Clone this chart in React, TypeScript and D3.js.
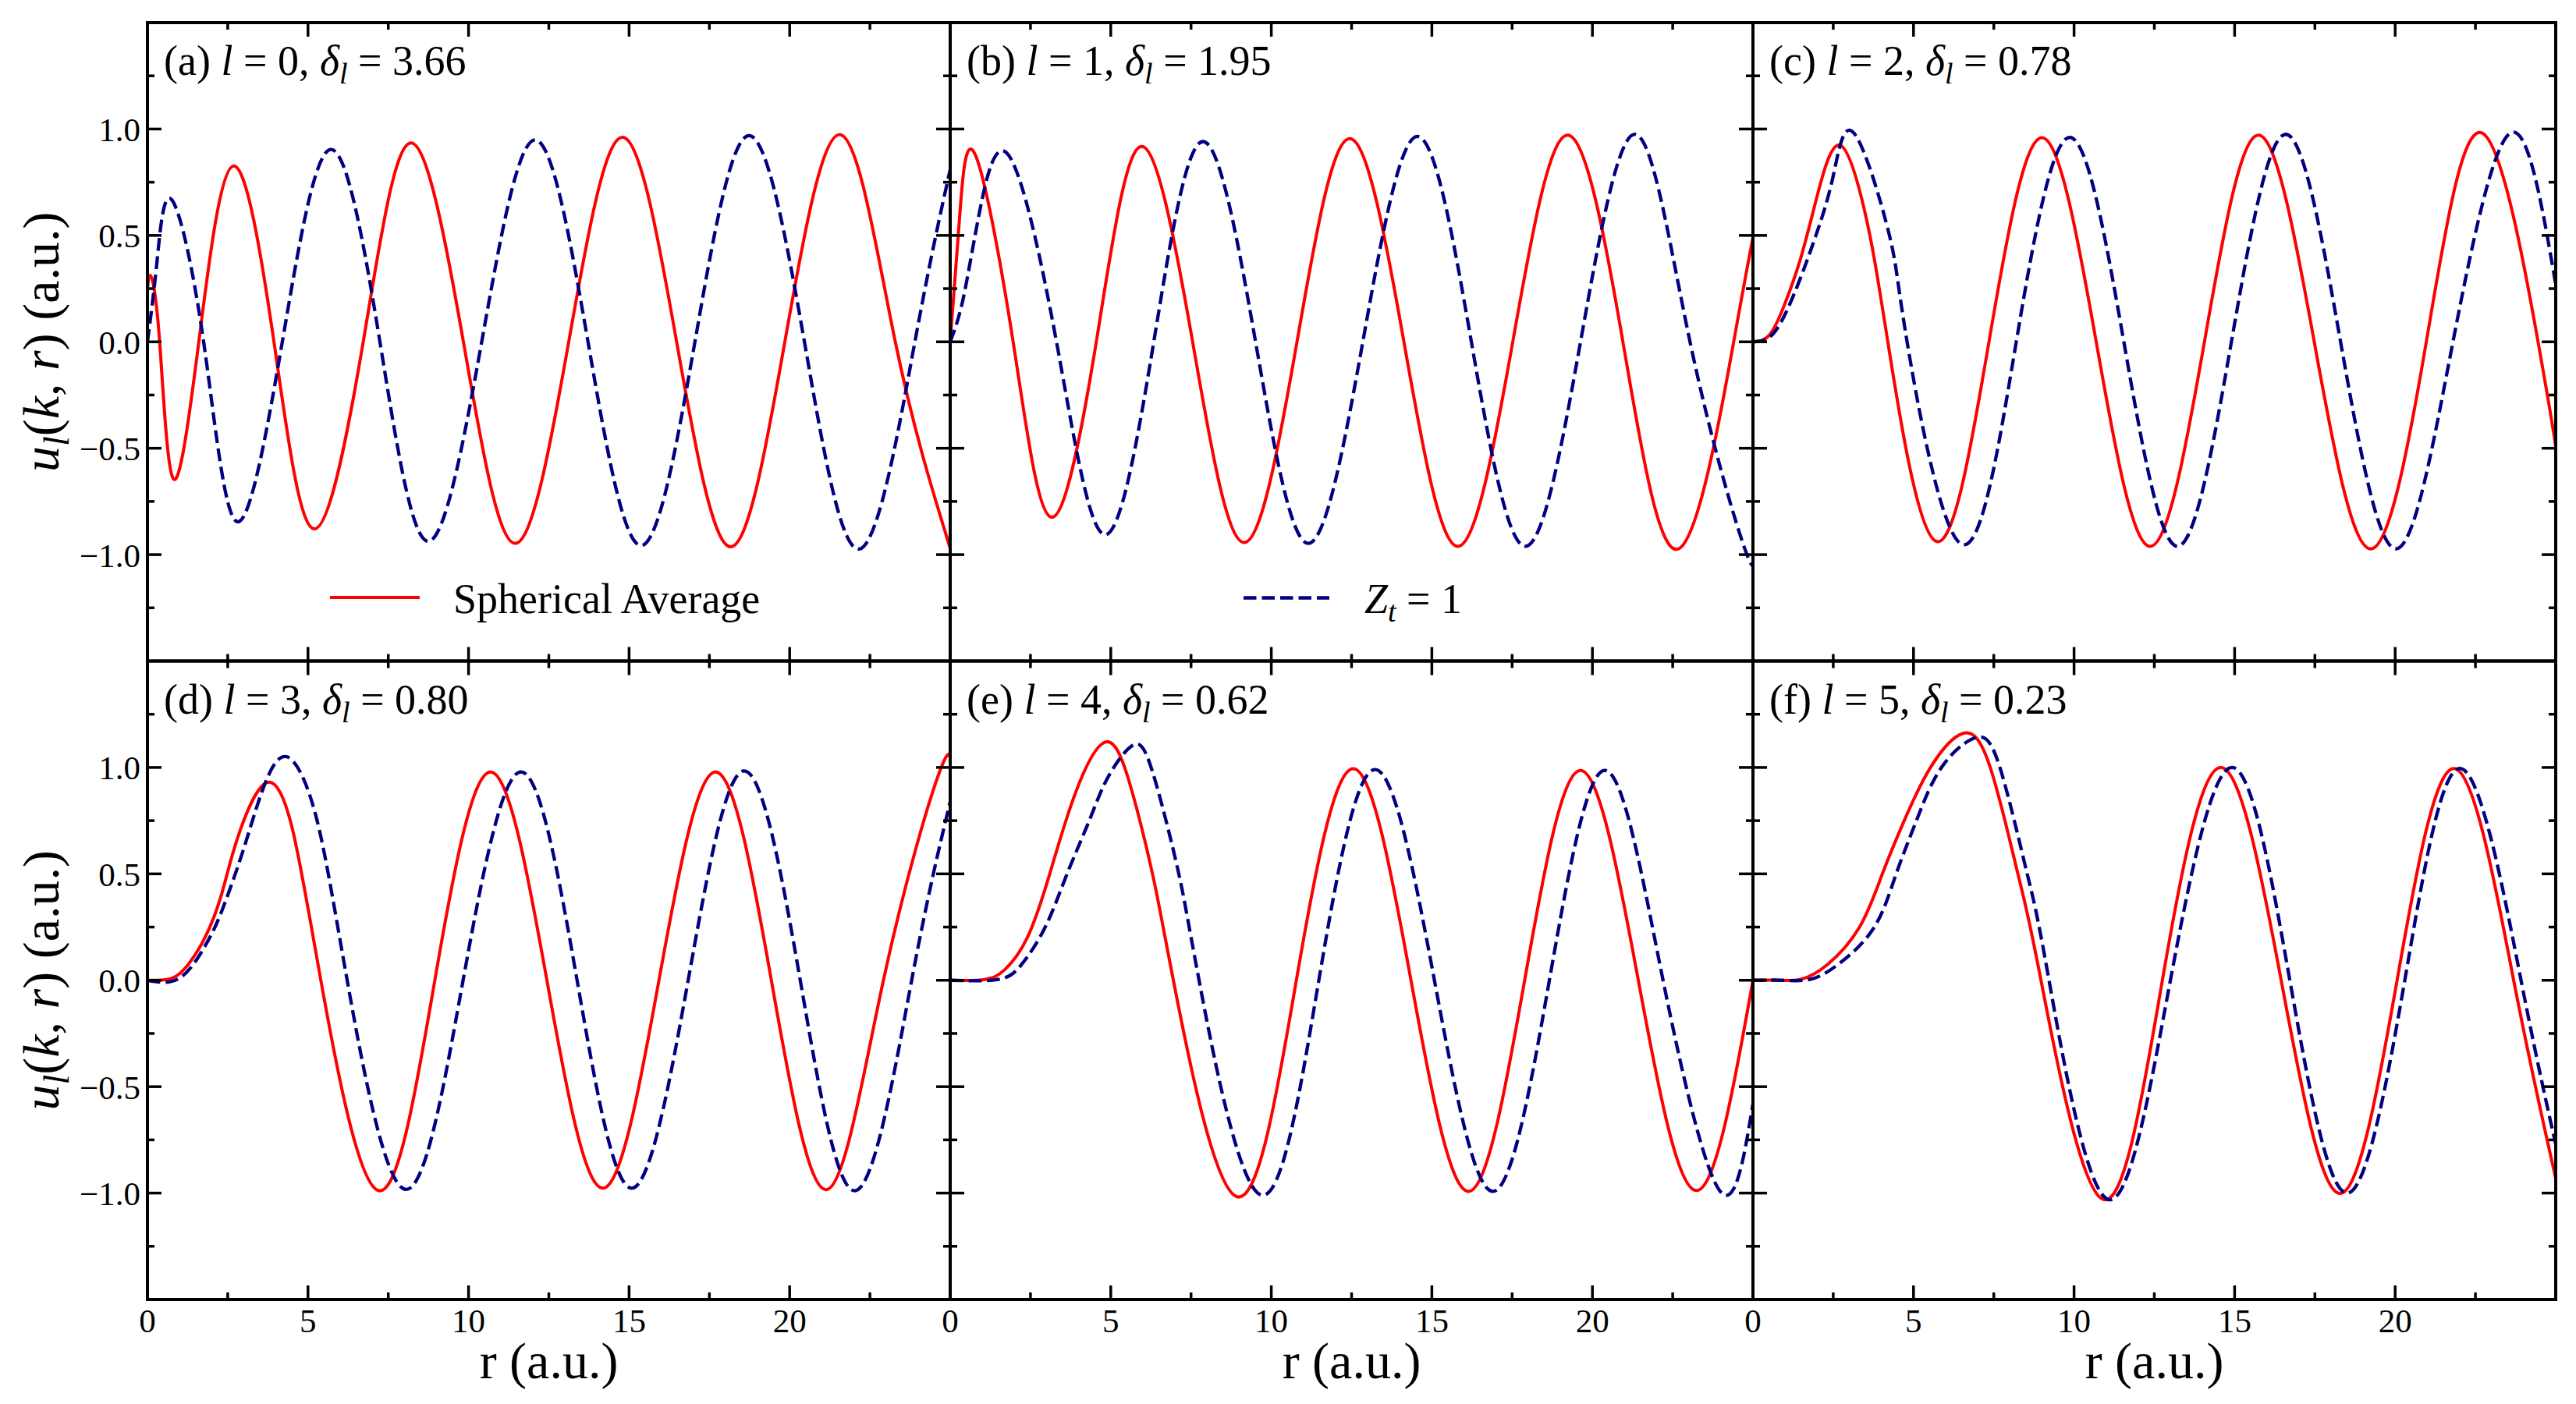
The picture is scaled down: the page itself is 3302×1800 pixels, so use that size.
import React, { useEffect } from "react";
import * as d3 from "d3";

type P = [number, number];

// ---- data (r in a.u., u_l(k,r) in a.u.) ----
const redA: P[] = [[0,0.24],[0.1,0.31],[0.38,0],[0.81,-0.644],[1.6,0],[2.67,0.826],[3.94,0],[5.19,-0.879],[6.72,0],[8.2,0.935],[9.84,0],[11.45,-0.947],[13.12,0],[14.79,0.961],[16.48,0],[18.16,-0.963],[19.85,0],[21.59,0.973],[23.29,0],[25,-0.97]];
const blueA: P[] = [[0,0],[0.3,0.38],[0.75,0.669],[1.75,0],[2.79,-0.845],[4.2,0],[5.71,0.904],[7.24,0],[8.74,-0.937],[10.41,0],[12.07,0.949],[13.72,0],[15.37,-0.957],[17.05,0],[18.73,0.969],[20.46,0],[22.19,-0.973],[23.9,0],[25,0.81]];

const redB: P[] = [[0,0],[0.1,0.2],[0.3,0.6],[0.77,0.883],[1.96,0],[3.15,-0.824],[4.55,0],[5.95,0.918],[7.55,0],[9.15,-0.943],[10.8,0],[12.44,0.955],[14.13,0],[15.81,-0.961],[17.52,0],[19.22,0.971],[20.95,0],[22.68,-0.973],[24.4,0],[25,0.49]];
const blueB: P[] = [[0,0],[0.4,0.2],[0.9,0.6],[1.82,0.877],[3.31,0],[4.81,-0.906],[6.34,0],[7.87,0.941],[9.51,0],[11.15,-0.947],[12.85,0],[14.55,0.965],[16.23,0],[17.91,-0.961],[19.63,0],[21.34,0.975],[23.04,0],[24.74,-0.97],[25,-0.955]];

const redC: P[] = [[0,0],[0.5,0.03],[0.97,0.17],[1.48,0.39],[1.99,0.68],[2.71,0.924],[3.5,0.6],[4.2,0],[5.7,-0.937],[7.35,0],[9.0,0.959],[10.69,0],[12.37,-0.961],[14.06,0],[15.74,0.971],[17.48,0],[19.23,-0.973],[20.97,0],[22.7,0.982],[24.45,0],[25,-0.49]];
const blueC: P[] = [[0,0],[0.5,0.02],[0.97,0.12],[1.48,0.3],[1.96,0.5],[2.5,0.78],[3.15,0.98],[4.25,0.5],[4.8,0],[6.5,-0.951],[8.2,0],[9.87,0.961],[11.55,0],[13.22,-0.961],[14.9,0],[16.59,0.975],[18.3,0],[20.03,-0.973],[21.8,0],[23.6,0.982],[25,0.27]];

const redD: P[] = [[0,0],[0.77,0.01],[1.28,0.076],[1.79,0.2],[2.3,0.4],[2.81,0.67],[3.7,0.928],[4.5,0.72],[5.4,0],[7.19,-0.988],[8.95,0],[10.69,0.979],[12.44,0],[14.18,-0.977],[15.93,0],[17.69,0.979],[19.43,0],[21.15,-0.984],[22.92,0],[24.68,0.984],[25,0.95]];
const blueD: P[] = [[0,0],[1.0,0.01],[1.79,0.16],[2.3,0.32],[2.98,0.61],[3.6,0.9],[4.35,1.05],[5.25,0.77],[6.22,0],[8.01,-0.982],[9.83,0],[11.64,0.979],[13.38,0],[15.08,-0.977],[16.84,0],[18.58,0.984],[20.33,0],[22.07,-0.988],[23.8,0],[25,0.84]];

const redE: P[] = [[0,0],[1.05,0.003],[1.7,0.05],[2.4,0.2],[3.1,0.5],[3.9,0.88],[4.84,1.12],[5.6,0.92],[6.3,0.5],[6.95,0],[8.91,-1.016],[10.78,0],[12.56,0.994],[14.35,0],[16.14,-0.992],[17.89,0],[19.63,0.986],[21.43,0],[23.24,-0.988],[25,0]];
const blueE: P[] = [[0,0],[1.46,0.003],[2.2,0.07],[2.96,0.25],[3.64,0.5],[4.33,0.75],[4.9,0.95],[5.68,1.104],[6.3,0.98],[7.09,0.52],[7.75,0],[9.66,-1.008],[11.48,0],[13.24,0.99],[15.08,0],[16.9,-0.992],[18.66,0],[20.4,0.986],[22.2,0],[23.98,-0.992],[25,-0.58]];

const redF: P[] = [[0,0],[0.75,0],[1.5,0.005],[2.33,0.075],[3.32,0.25],[4.03,0.5],[4.71,0.75],[5.53,1.0],[6.54,1.16],[7.39,1.0],[8.25,0.5],[8.97,0],[10.89,-1.029],[12.75,0],[14.58,1.0],[16.45,0],[18.28,-1.002],[20.06,0],[21.87,0.994],[23.69,0],[25,-0.93]];
const blueF: P[] = [[0,0],[0.9,0],[1.8,0.005],[2.7,0.08],[3.78,0.25],[4.46,0.5],[5.09,0.75],[5.87,1.0],[6.93,1.14],[7.69,1.0],[8.54,0.5],[9.22,0],[11.04,-1.029],[13.0,0],[14.93,1.0],[16.72,0],[18.5,-1.0],[20.3,0],[22.07,0.994],[23.92,0],[25,-0.77]];

const panelLetters = ["a", "b", "c", "d", "e", "f"];
const panelL = ["0", "1", "2", "3", "4", "5"];
const panelDelta = ["3.66", "1.95", "0.78", "0.80", "0.62", "0.23"];
const redSeries = [redA, redB, redC, redD, redE, redF];
const blueSeries = [blueA, blueB, blueC, blueD, blueE, blueF];

const xDomain: [number, number] = [0, 25];
const yDomain: [number, number] = [-1.5, 1.5];
const xMajor = [0, 5, 10, 15, 20];
const xMinor = [2.5, 7.5, 12.5, 17.5, 22.5];
const yMajor = [-1, -0.5, 0, 0.5, 1];
const yMinor = [-1.25, -0.75, -0.25, 0.25, 0.75, 1.25];
const legendRed = "Spherical Average";

// ---- layout ----
const W = 3302, H = 1800;
const PL = 189, PT = 29;
const PW = 1029, PH = 818.5;
const FONT = '"Liberation Serif", serif';
const RED = "#FF0000";
const BLUE = "#000080";
const txt = { fontFamily: FONT } as React.CSSProperties;

function fmtY(v: number) {
  const s = Math.abs(v).toFixed(1);
  return v < 0 ? "\u2212" + s : s;
}

function Panel({ i }: { i: number }) {
  const col = i % 3, row = Math.floor(i / 3);
  const left = PL + col * PW, top = PT + row * PH;
  const x = d3.scaleLinear().domain(xDomain).range([left, left + PW]);
  const y = d3.scaleLinear().domain(yDomain).range([top + PH, top]);
  const line = d3.line<P>().x(d => x(d[0])).y(d => y(d[1])).curve(d3.curveNatural);
  const clipId = `clip${i}`;
  const major = 18, minor = 9;
  const bottom = top + PH, right = left + PW;
  return (
    <g>
      <defs>
        <clipPath id={clipId}>
          <rect x={left} y={top} width={PW} height={PH} />
        </clipPath>
      </defs>
      <g clipPath={`url(#${clipId})`}>
        <path d={line(redSeries[i]) || ""} fill="none" stroke={RED} strokeWidth={4} />
        <path d={line(blueSeries[i]) || ""} fill="none" stroke={BLUE} strokeWidth={4.3} strokeDasharray="16.5 7" />
      </g>
      <g stroke="#000" strokeWidth={3.5}>
        {xMajor.concat(xMinor).map((t, k) => {
          const len = xMajor.includes(t) ? major : minor;
          return (
            <g key={"xt" + k}>
              <line x1={x(t)} x2={x(t)} y1={bottom} y2={bottom - len} />
              <line x1={x(t)} x2={x(t)} y1={top} y2={top + len} />
            </g>
          );
        })}
        {yMajor.concat(yMinor).map((t, k) => {
          const len = yMajor.includes(t) ? major : minor;
          return (
            <g key={"yt" + k}>
              <line x1={left} x2={left + len} y1={y(t)} y2={y(t)} />
              <line x1={right} x2={right - len} y1={y(t)} y2={y(t)} />
            </g>
          );
        })}
      </g>
      <rect x={left} y={top} width={PW} height={PH} fill="none" stroke="#000" strokeWidth={4} />
      <text x={left + 21} y={top + 67} style={txt} fontSize={54} fill="#000">
        <tspan>{`(${panelLetters[i]}) `}</tspan>
        <tspan fontStyle="italic">l</tspan>
        <tspan>{` = ${panelL[i]}, `}</tspan>
        <tspan fontStyle="italic">δ</tspan>
        <tspan fontStyle="italic" fontSize={38} dy={11}>l</tspan>
        <tspan dy={-11}>{` = ${panelDelta[i]}`}</tspan>
      </text>
      {col === 0 && yMajor.map((t, k) => (
        <text key={"yl" + k} x={left - 9} y={y(t)} dy="0.36em" textAnchor="end" style={txt} fontSize={43} fill="#000">
          {fmtY(t)}
        </text>
      ))}
      {row === 1 && xMajor.map((t, k) => (
        <text key={"xl" + k} x={x(t)} y={bottom + 42} textAnchor="middle" style={txt} fontSize={43} fill="#000">
          {String(t)}
        </text>
      ))}
      {row === 1 && (
        <text x={left + PW / 2} y={1767} textAnchor="middle" style={txt} fontSize={66} fill="#000">
          r (a.u.)
        </text>
      )}
      {col === 0 && (
        <text transform={`translate(75, ${top + PH / 2}) rotate(-90)`} textAnchor="middle" style={txt} fontSize={66} fill="#000">
          <tspan fontStyle="italic">u</tspan>
          <tspan fontStyle="italic" fontSize={46} dy={13}>l</tspan>
          <tspan dy={-13}>(</tspan>
          <tspan fontStyle="italic">k</tspan>
          <tspan>{", "}</tspan>
          <tspan fontStyle="italic">r</tspan>
          <tspan>{") (a.u.)"}</tspan>
        </text>
      )}
      {i === 0 && (
        <g>
          <line x1={left + 234} x2={left + 349} y1={766} y2={766} stroke={RED} strokeWidth={4} />
          <text x={left + 392} y={786} style={txt} fontSize={54} fill="#000">{legendRed}</text>
        </g>
      )}
      {i === 1 && (
        <g>
          <line x1={left + 376} x2={left + 486} y1={766.5} y2={766.5} stroke={BLUE} strokeWidth={4.5} strokeDasharray="16.5 7" />
          <text x={left + 531} y={786} style={txt} fontSize={54} fill="#000">
            <tspan fontStyle="italic">Z</tspan>
            <tspan fontStyle="italic" fontSize={38} dy={11}>t</tspan>
            <tspan dy={-11}>{" = 1"}</tspan>
          </text>
        </g>
      )}
    </g>
  );
}

export default function App() {
  useEffect(() => {
    document.body.style.margin = "0";
  }, []);
  return (
    <svg width={W} height={H} viewBox={`0 0 ${W} ${H}`} style={{ display: "block", background: "#fff", fontFamily: FONT }}>
      <rect x={0} y={0} width={W} height={H} fill="#fff" />
      {panelLetters.map((_, i) => <Panel key={i} i={i} />)}
    </svg>
  );
}
